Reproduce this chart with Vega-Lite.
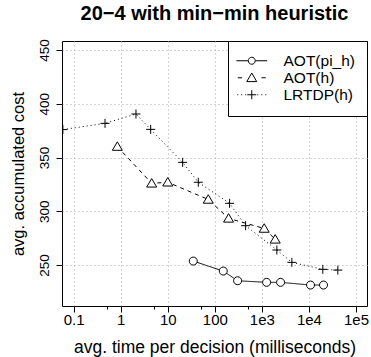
{
  "$schema": "https://vega.github.io/schema/vega-lite/v6.json",
  "width": 305,
  "height": 265,
  "autosize": {"type": "none"},
  "padding": {"left": 62, "top": 41, "right": 4, "bottom": 51},
  "background": "white",
  "title": {
    "text": "20−4 with min−min heuristic",
    "font": "Liberation Sans",
    "fontSize": 20,
    "fontWeight": "bold",
    "color": "black",
    "anchor": "middle",
    "frame": "group",
    "offset": 15
  },
  "config": {
    "view": {"stroke": "black", "strokeWidth": 1},
    "axis": {
      "labelFont": "Liberation Sans",
      "titleFont": "Liberation Sans",
      "labelColor": "black",
      "titleColor": "black",
      "titleFontWeight": "normal",
      "tickColor": "black",
      "tickWidth": 1,
      "domain": false,
      "gridColor": "#aaaaaa",
      "gridDash": [1, 3],
      "gridWidth": 1
    },
    "legend": {
      "labelFont": "Liberation Sans"
    }
  },
  "data": {
    "values": [
      {"series": "AOT(pi_h)", "time": 34.8, "cost": 253.7},
      {"series": "AOT(pi_h)", "time": 151, "cost": 244.4},
      {"series": "AOT(pi_h)", "time": 305, "cost": 235.4},
      {"series": "AOT(pi_h)", "time": 1259, "cost": 233.9},
      {"series": "AOT(pi_h)", "time": 2495, "cost": 233.9},
      {"series": "AOT(pi_h)", "time": 10800, "cost": 231.4},
      {"series": "AOT(pi_h)", "time": 20400, "cost": 231.4},
      {"series": "AOT(h)", "time": 0.847, "cost": 360.2},
      {"series": "AOT(h)", "time": 4.55, "cost": 326},
      {"series": "AOT(h)", "time": 10, "cost": 327},
      {"series": "AOT(h)", "time": 72.5, "cost": 311},
      {"series": "AOT(h)", "time": 196, "cost": 293.4},
      {"series": "AOT(h)", "time": 1120, "cost": 284},
      {"series": "AOT(h)", "time": 1920, "cost": 273.9},
      {"series": "LRTDP(h)", "time": 0.059, "cost": 376},
      {"series": "LRTDP(h)", "time": 0.464, "cost": 381.8},
      {"series": "LRTDP(h)", "time": 2.11, "cost": 390.5},
      {"series": "LRTDP(h)", "time": 4.33, "cost": 376.2},
      {"series": "LRTDP(h)", "time": 20.7, "cost": 345.5},
      {"series": "LRTDP(h)", "time": 44.5, "cost": 327},
      {"series": "LRTDP(h)", "time": 206, "cost": 307.4},
      {"series": "LRTDP(h)", "time": 451, "cost": 286.6},
      {"series": "LRTDP(h)", "time": 2080, "cost": 264},
      {"series": "LRTDP(h)", "time": 4335, "cost": 252.5},
      {"series": "LRTDP(h)", "time": 19700, "cost": 246},
      {"series": "LRTDP(h)", "time": 41100, "cost": 245.3}
    ]
  },
  "encoding": {
    "x": {
      "field": "time",
      "type": "quantitative",
      "scale": {"type": "log", "domain": [0.0565, 171300], "nice": false},
      "axis": {
        "title": "avg. time per decision (milliseconds)",
        "titleFontSize": 17.5,
        "titlePadding": 11,
        "labelFontSize": 15,
        "labelPadding": 0,
        "labelFlush": false,
        "labelOverlap": false,
        "values": [0.1, 0.5, 1, 5, 10, 50, 100, 500, 1000, 10000, 100000],
        "labelExpr": "datum.value == 0.1 ? '0.1' : datum.value == 1 ? '1' : datum.value == 10 ? '10' : datum.value == 100 ? '100' : datum.value == 1000 ? '1e3' : datum.value == 10000 ? '1e4' : datum.value == 100000 ? '1e5' : ''",
        "tickSize": {"condition": {"test": "datum.value == 0.5 || datum.value == 5 || datum.value == 50 || datum.value == 500", "value": 3}, "value": 6},
        "gridOpacity": {"condition": {"test": "datum.value == 0.5 || datum.value == 5 || datum.value == 50 || datum.value == 500", "value": 0}, "value": 1}
      }
    },
    "y": {
      "field": "cost",
      "type": "quantitative",
      "scale": {"domain": [211.9, 458.4], "nice": false, "zero": false},
      "axis": {
        "title": "avg. accumulated cost",
        "titleFontSize": 16.5,
        "titlePadding": 11,
        "labelFontSize": 13.5,
        "labelAngle": -90,
        "labelAlign": "center",
        "labelBaseline": "alphabetic",
        "labelPadding": 8,
        "tickSize": 6,
        "values": [250, 300, 350, 400, 450],
        "format": "d"
      }
    }
  },
  "layer": [
    {
      "mark": {"type": "line", "color": "black", "strokeWidth": 1, "clip": true},
      "encoding": {
        "strokeDash": {
          "field": "series",
          "type": "nominal",
          "scale": {"domain": ["AOT(pi_h)", "AOT(h)", "LRTDP(h)"], "range": [[1, 0], [4, 4], [1, 3]]},
          "legend": null
        }
      }
    },
    {
      "mark": {"type": "point", "fill": "white", "stroke": "black", "strokeWidth": 1, "opacity": 1, "size": 100, "clip": true},
      "encoding": {
        "shape": {
          "field": "series",
          "type": "nominal",
          "scale": {
            "domain": ["AOT(pi_h)", "AOT(h)", "LRTDP(h)"],
            "range": [
              "M0.8,0A0.8,0.8,0,1,1,-0.8,0A0.8,0.8,0,1,1,0.8,0Z",
              "M0,-0.95L1,0.75L-1,0.75Z",
              "M-0.9,0H0.9M0,-0.9V0.9"
            ]
          },
          "legend": null
        }
      }
    },
    {
      "mark": {"type": "point", "filled": false, "color": "black", "strokeWidth": 1, "size": 196, "opacity": 0},
      "encoding": {
        "shape": {
          "field": "series",
          "type": "nominal",
          "scale": {
            "domain": ["AOT(pi_h)", "AOT(h)", "LRTDP(h)"],
            "range": [
              "M-2.2,0H-0.55M0.55,0H2.2M0.5,0A0.5,0.5,0,1,1,-0.5,0A0.5,0.5,0,1,1,0.5,0Z",
              "M-2,0H-1.4M1.4,0H2M0,-0.68L0.71,0.55L-0.71,0.55Z",
              "M-2.07,0H-1.93M-1.5,0H-1.36M-0.93,0H-0.79M0.79,0H0.93M1.36,0H1.5M1.93,0H2.07M-0.64,0H0.64M0,-0.64V0.64"
            ]
          },
          "legend": {
            "title": null,
            "orient": "top-right",
            "offset": 0,
            "padding": 12,
            "strokeColor": "black",
            "fillColor": "white",
            "cornerRadius": 0,
            "labelFontSize": 15.5,
            "labelColor": "black",
            "rowPadding": 0,
            "symbolSize": 196,
            "symbolStrokeWidth": 1,
            "symbolStrokeColor": "black",
            "symbolOpacity": 1,
            "symbolOffset": 4,
            "labelOffset": 24
          }
        }
      }
    }
  ],
  "resolve": {"scale": {"shape": "independent"}, "legend": {"shape": "independent"}}
}
